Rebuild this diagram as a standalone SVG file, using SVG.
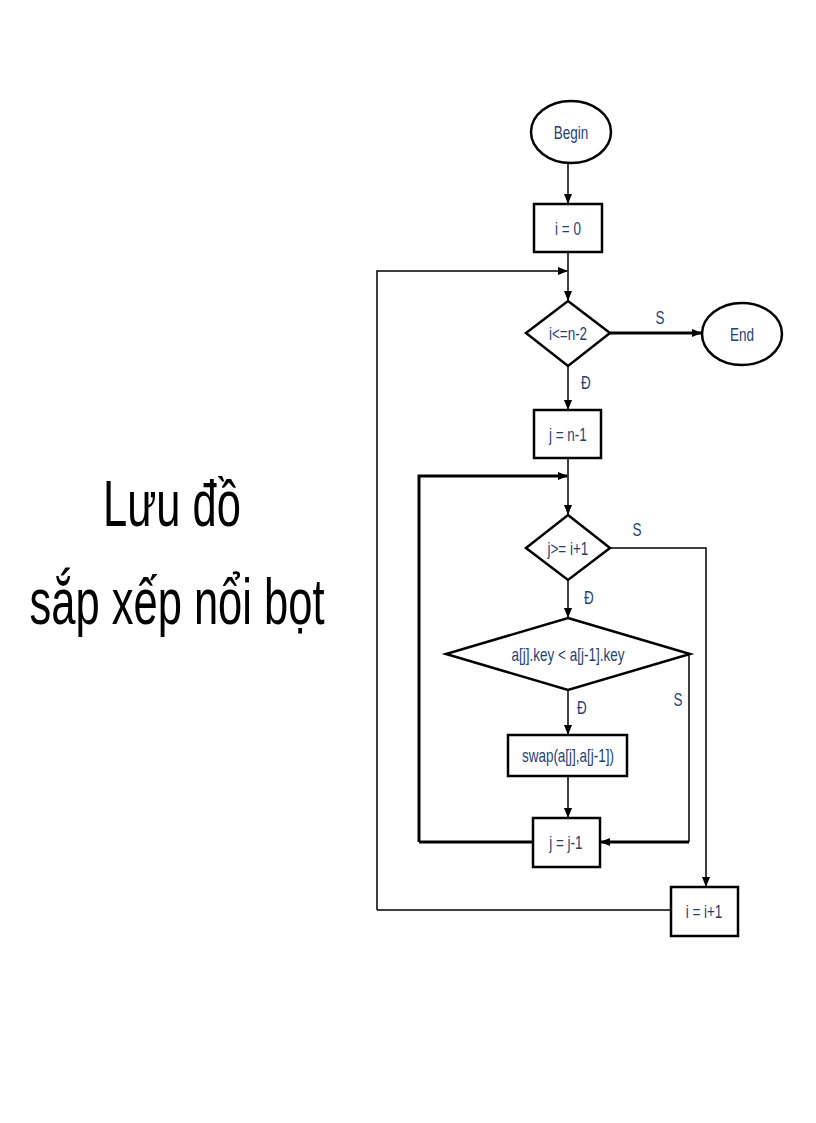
<svg xmlns="http://www.w3.org/2000/svg" width="816" height="1123" viewBox="0 0 816 1123">
<defs>
<marker id="ah" markerWidth="10" markerHeight="10" refX="9" refY="5" orient="auto" markerUnits="userSpaceOnUse"><path d="M0,1 L10,5 L0,9 z" fill="#000"/></marker>
<style>
.s{fill:#fff;stroke:#000;stroke-width:2.5}
.t{font-family:"Liberation Sans",sans-serif;font-size:18px;fill:#1f3f78;text-anchor:middle;transform-box:fill-box;transform-origin:center;transform:scaleX(0.75)}
.c{fill:none;stroke:#000;stroke-width:1.5}
.ct{fill:none;stroke:#000;stroke-width:3}
.h{font-family:"Liberation Sans",sans-serif;font-size:64px;fill:#000;text-anchor:middle;transform-box:fill-box;transform-origin:center;transform:scaleX(0.68)}
</style>
</defs>
<rect width="816" height="1123" fill="#fff"/>
<text class="h" x="172" y="526">Lưu đồ</text>
<text class="h" x="177" y="624">sắp xếp nổi bọt</text>
<g id="connectors">
<path class="c" d="M568,163 V203" marker-end="url(#ah)"/>
<path class="c" d="M568,252 V300" marker-end="url(#ah)"/>
<path class="c" d="M377,910 V271 H567" marker-end="url(#ah)"/>
<path class="ct" d="M610,333 H701" marker-end="url(#ah)"/>
<path class="c" d="M568,366 V409" marker-end="url(#ah)"/>
<path class="c" d="M568,458 V514" marker-end="url(#ah)"/>
<path class="ct" d="M419,842 V476 H567" marker-end="url(#ah)"/>
<path class="c" d="M610,548 H706 V886" marker-end="url(#ah)"/>
<path class="c" d="M568,580 V617" marker-end="url(#ah)"/>
<path class="c" d="M568,690 V734" marker-end="url(#ah)"/>
<path class="c" d="M568,776 V817" marker-end="url(#ah)"/>
<path class="c" d="M689,654 V842"/>
<path class="ct" d="M689,842 H601" marker-end="url(#ah)"/>
<path class="ct" d="M533,842 H419"/>
<path class="c" d="M671,910 H377"/>
<text class="t" x="660" y="324">S</text>
<text class="t" x="586" y="389">Đ</text>
<text class="t" x="637" y="536">S</text>
<text class="t" x="589" y="604">Đ</text>
<text class="t" x="582" y="714">Đ</text>
<text class="t" x="678" y="706">S</text>
</g>
<g id="begin"><ellipse class="s" cx="571" cy="132" rx="40" ry="31"/><text class="t" x="571" y="139">Begin</text></g>
<g id="i0"><rect class="s" x="534" y="204" width="68" height="48"/><text class="t" x="568" y="235">i = 0</text></g>
<g id="cond1"><path class="s" d="M568,301 L610,333 L568,366 L526,333 z"/><text class="t" x="568" y="340">i&lt;=n-2</text></g>
<g id="end"><ellipse class="s" cx="742" cy="334" rx="40" ry="31"/><text class="t" x="742" y="341">End</text></g>
<g id="jn1"><rect class="s" x="534" y="410" width="67" height="48"/><text class="t" x="568" y="441">j = n-1</text></g>
<g id="cond2"><path class="s" d="M568,515 L610,548 L568,580 L526,548 z"/><text class="t" x="568" y="555">j&gt;= i+1</text></g>
<g id="cond3"><path class="s" d="M568,618 L690,654 L568,690 L446,654 z"/><text class="t" x="568" y="661">a[j].key &lt; a[j-1].key</text></g>
<g id="swap"><rect class="s" x="508" y="735" width="119" height="41"/><text class="t" x="568" y="762">swap(a[j],a[j-1])</text></g>
<g id="jdec"><rect class="s" x="533" y="818" width="67" height="49"/><text class="t" x="566" y="849">j =  j-1</text></g>
<g id="iinc"><rect class="s" x="671" y="887" width="67" height="49"/><text class="t" x="704" y="918">i =   i+1</text></g>
</svg>
